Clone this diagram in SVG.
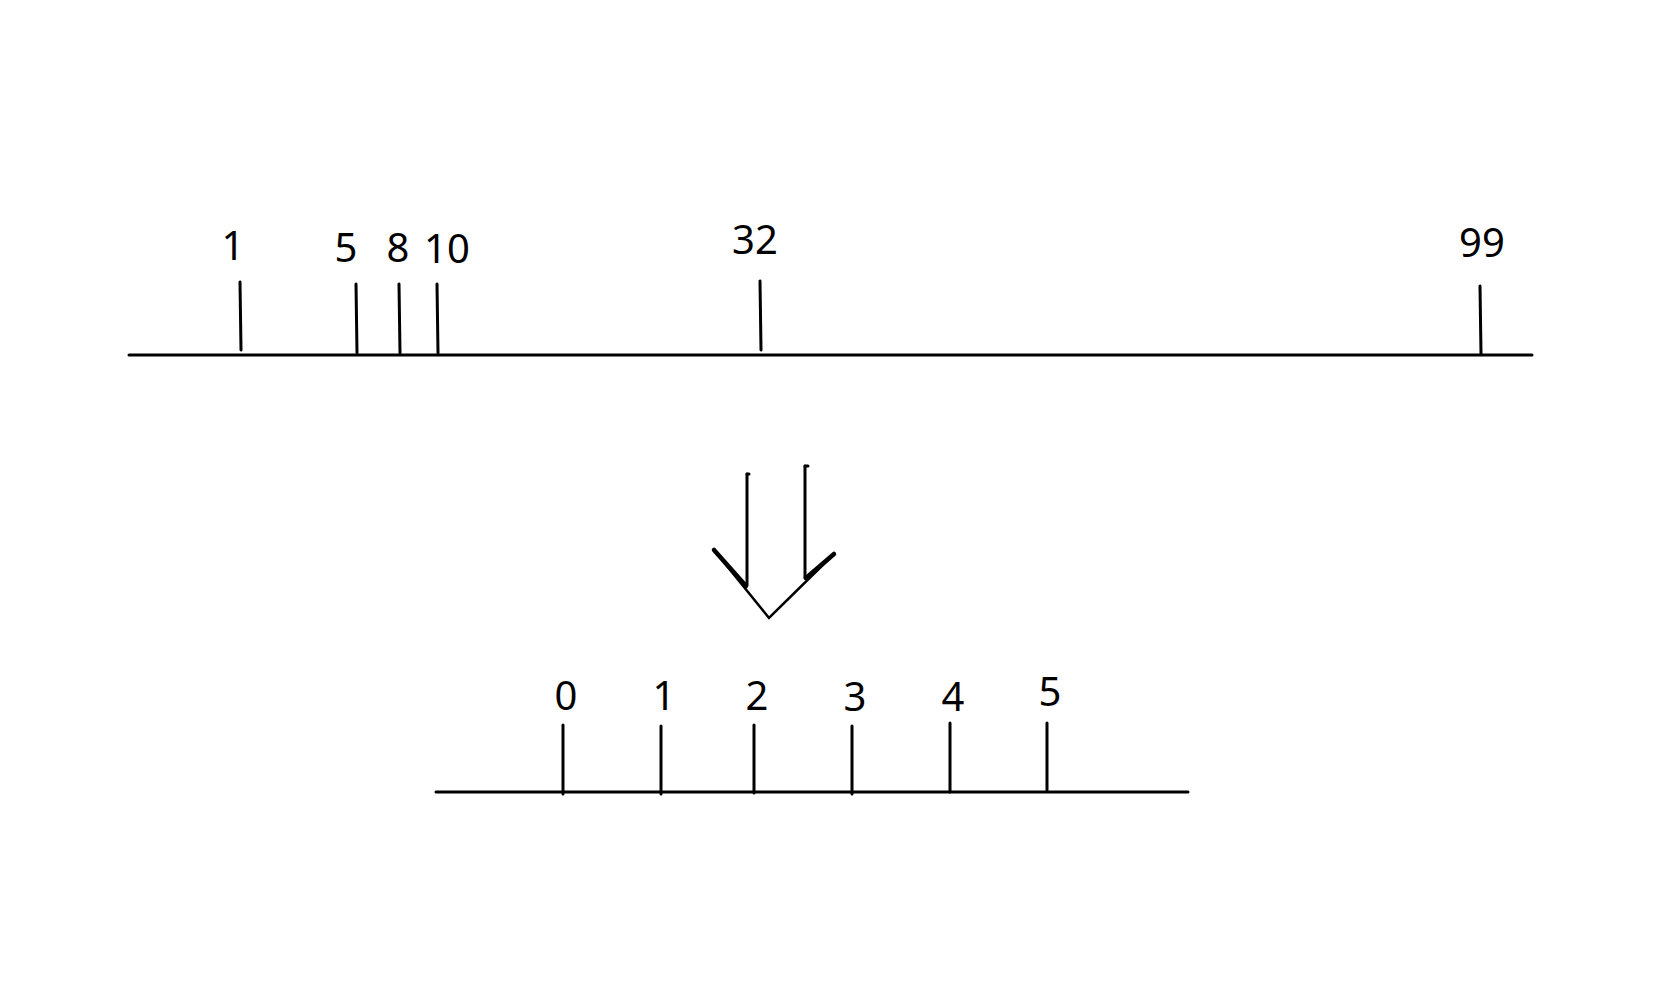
<svg xmlns="http://www.w3.org/2000/svg" width="1656" height="1000" viewBox="0 0 1656 1000">
<style>
.ln{stroke:#000;stroke-width:3;fill:none;stroke-linecap:round}
.tk{stroke:#000;stroke-width:3;fill:none;stroke-linecap:round}
.lb{font-family:"Noto Sans","DejaVu Sans",sans-serif;font-size:40px;fill:#000;text-anchor:middle}
</style>
<rect width="1656" height="1000" fill="#fff"/>
<g id="top-axis">
<line class="ln" x1="129" y1="355" x2="1532" y2="355"/>
</g>
<g id="tick-1"><line class="tk" x1="240" y1="282" x2="241" y2="350"/><text class="lb" x="233" y="260">1</text></g>
<g id="tick-5"><line class="tk" x1="356" y1="284" x2="357" y2="353"/><text class="lb" x="346" y="262">5</text></g>
<g id="tick-8"><line class="tk" x1="399" y1="284" x2="400" y2="353"/><text class="lb" x="398" y="262">8</text></g>
<g id="tick-10"><line class="tk" x1="437" y1="284" x2="438" y2="353"/><text class="lb" x="447" y="263">10</text></g>
<g id="tick-32"><line class="tk" x1="760" y1="281" x2="761" y2="350"/><text class="lb" x="755" y="254">32</text></g>
<g id="tick-99"><line class="tk" x1="1480" y1="286" x2="1481" y2="354"/><text class="lb" x="1482" y="257">99</text></g>
<g id="arrow">
<polyline points="747,474 749,474" class="tk"/>
<line class="tk" x1="747" y1="474" x2="747" y2="585"/>
<polyline points="805,466 808,466" class="tk"/>
<line class="tk" x1="805" y1="466" x2="805" y2="578"/>
<polyline points="714,550 769,618 834,554" fill="none" stroke="#000" stroke-width="2.5" stroke-linejoin="miter"/>
<line x1="714" y1="550" x2="746" y2="586" stroke="#000" stroke-width="4.5" stroke-linecap="round"/>
<line x1="834" y1="554" x2="806" y2="578" stroke="#000" stroke-width="4.5" stroke-linecap="round"/>
</g>
<g id="bottom-axis">
<line class="ln" x1="436" y1="792" x2="1188" y2="792"/>
</g>
<g id="b-0"><line class="tk" x1="563" y1="725" x2="563" y2="794"/><text class="lb" x="566" y="710">0</text></g>
<g id="b-1"><line class="tk" x1="661" y1="726" x2="661" y2="794"/><text class="lb" x="664" y="710">1</text></g>
<g id="b-2"><line class="tk" x1="754" y1="725" x2="754" y2="793"/><text class="lb" x="757" y="710">2</text></g>
<g id="b-3"><line class="tk" x1="852" y1="726" x2="852" y2="794"/><text class="lb" x="855" y="711">3</text></g>
<g id="b-4"><line class="tk" x1="950" y1="723" x2="950" y2="792"/><text class="lb" x="953" y="711">4</text></g>
<g id="b-5"><line class="tk" x1="1047" y1="723" x2="1047" y2="790"/><text class="lb" x="1050" y="706">5</text></g>
</svg>
